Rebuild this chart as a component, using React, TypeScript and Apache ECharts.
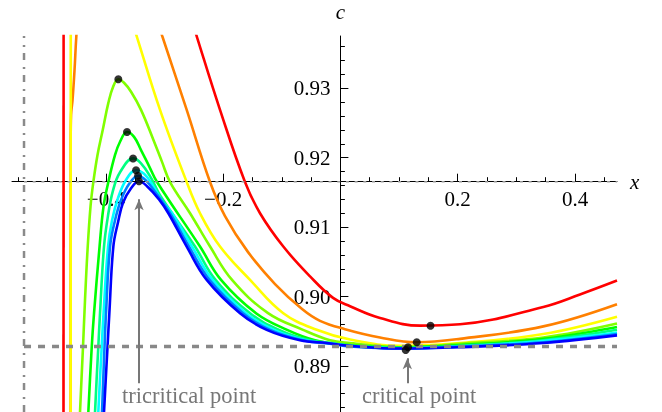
import React, { useEffect, useRef } from "react";
import * as echarts from "echarts";

// ---- axis ranges and ticks ----
const X_MIN = -0.56;
const X_MAX = 0.4716;
const C_MIN = 0.88336;
const C_MAX = 0.93754;
const C_TRI = 0.91654; // axes origin (tricritical c)
const X_MAJOR = [-0.4, -0.2, 0.2, 0.4];
const X_MINOR = [-0.55, -0.5, -0.45, -0.35, -0.3, -0.25, -0.15, -0.1, -0.05, 0.05, 0.1, 0.15, 0.25, 0.3, 0.35, 0.45];
const C_MAJOR = [0.89, 0.9, 0.91, 0.92, 0.93];
const C_MINOR = [0.884, 0.886, 0.888, 0.892, 0.894, 0.896, 0.898, 0.902, 0.904, 0.906, 0.908, 0.912, 0.914, 0.916, 0.918, 0.922, 0.924, 0.926, 0.928, 0.932, 0.934, 0.936];

// ---- reference lines / annotations ----
const X_DASHDOT = -0.5395;
const C_DASHED = 0.8928;
const TRI_ARROW_X = -0.3434;
const CRIT_ARROW_X = 0.1141;
const ARROW_BASE_C = 0.8875;
const TRI_ARROW_END_C = 0.914;
const CRIT_ARROW_END_C = 0.8911;

// ---- curves [x, c] ----
const redLeft = [[-0.4722, 0.8793], [-0.472, 0.9413]];
const redMain = [[-0.2587, 0.9413], [-0.245, 0.9375], [-0.2053, 0.9269], [-0.1627, 0.9165], [-0.1371, 0.912], [-0.0974, 0.9072], [-0.0518, 0.9029], [-0.0126, 0.8998], [0.0164, 0.8986], [0.0675, 0.8969], [0.1357, 0.8958], [0.204, 0.896], [0.346, 0.8985], [0.4085, 0.9003], [0.4716, 0.9023]];
const orangeLeft = [[-0.4465, 0.9413], [-0.4503, 0.9375], [-0.4534, 0.9326], [-0.4568, 0.9283], [-0.4593, 0.9262], [-0.4599, 0.9226], [-0.46, 0.8793]];
const orangeMain = [[-0.3183, 0.9413], [-0.3037, 0.9375], [-0.2621, 0.9269], [-0.2223, 0.9165], [-0.1968, 0.9116], [-0.1575, 0.9064], [-0.1115, 0.9018], [-0.0654, 0.8982], [-0.0348, 0.8965], [0.0078, 0.8953], [0.0675, 0.8941], [0.1301, 0.8934], [0.204, 0.8939], [0.346, 0.8957], [0.4716, 0.8989]];
const yellowLeft = [[-0.46, 0.8793], [-0.4598, 0.9413]];
const yellowMain = [[-0.3613, 0.9413], [-0.3473, 0.9375], [-0.3076, 0.9269], [-0.2621, 0.9165], [-0.2394, 0.912], [-0.2053, 0.9072], [-0.1541, 0.9024], [-0.0974, 0.8976], [-0.0404, 0.8952], [0.0164, 0.8938], [0.1016, 0.8929], [0.204, 0.8933], [0.346, 0.8946], [0.4716, 0.8971]];
const chartreuse = [[-0.4457, 0.8793], [-0.444, 0.8834], [-0.4389, 0.8928], [-0.4355, 0.8995], [-0.4312, 0.9067], [-0.4261, 0.913], [-0.4213, 0.9165], [-0.4142, 0.9204], [-0.4053, 0.924], [-0.3957, 0.9279], [-0.3877, 0.9302], [-0.3787, 0.9313], [-0.369, 0.9308], [-0.357, 0.9295], [-0.34, 0.9269], [-0.319, 0.9226], [-0.3042, 0.9194], [-0.2905, 0.9165], [-0.2564, 0.912], [-0.2223, 0.9072], [-0.1848, 0.9024], [-0.1234, 0.8976], [-0.0638, 0.8952], [-0.0177, 0.8937], [0.0164, 0.8933], [0.1016, 0.8927], [0.204, 0.8932], [0.346, 0.8941], [0.4716, 0.8961]];
const green = [[-0.4321, 0.8793], [-0.4298, 0.8834], [-0.424, 0.8928], [-0.4201, 0.8976], [-0.4107, 0.9072], [-0.4039, 0.913], [-0.3957, 0.9165], [-0.3843, 0.9204], [-0.3758, 0.9223], [-0.3639, 0.9237], [-0.3519, 0.923], [-0.34, 0.9211], [-0.3263, 0.9188], [-0.3127, 0.9165], [-0.2394, 0.9072], [-0.2036, 0.9024], [-0.1439, 0.8976], [-0.091, 0.8952], [-0.0433, 0.8937], [-0.0007, 0.8931], [0.0505, 0.8928], [0.1016, 0.8927], [0.204, 0.893], [0.346, 0.8939], [0.4716, 0.8956]];
const spring = [[-0.4201, 0.8793], [-0.4184, 0.8834], [-0.4128, 0.8928], [-0.4099, 0.8976], [-0.4031, 0.9072], [-0.3962, 0.9117], [-0.3877, 0.9153], [-0.3758, 0.9179], [-0.3536, 0.9199], [-0.34, 0.9192], [-0.3229, 0.9171], [-0.3076, 0.9146], [-0.2479, 0.9072], [-0.213, 0.9024], [-0.1541, 0.8976], [-0.1047, 0.8952], [-0.0518, 0.8937], [-0.0075, 0.8932], [0.0164, 0.8929], [0.1016, 0.8926], [0.204, 0.8929], [0.346, 0.8937], [0.4716, 0.8952]];
const cyan = [[-0.4142, 0.8793], [-0.4128, 0.8834], [-0.407, 0.8928], [-0.4039, 0.8976], [-0.3962, 0.9072], [-0.3894, 0.911], [-0.3792, 0.9142], [-0.3656, 0.9168], [-0.3485, 0.9182], [-0.3349, 0.9177], [-0.3213, 0.9162], [-0.306, 0.914], [-0.2871, 0.912], [-0.253, 0.9072], [-0.2181, 0.9024], [-0.161, 0.8976], [-0.1132, 0.8952], [-0.0587, 0.8937], [-0.0126, 0.8932], [0.0164, 0.8929], [0.1016, 0.8925], [0.204, 0.8928], [0.346, 0.8936], [0.4716, 0.8948]];
const azure = [[-0.4082, 0.8793], [-0.4065, 0.8834], [-0.4022, 0.8928], [-0.3997, 0.8976], [-0.3928, 0.9072], [-0.3843, 0.911], [-0.3741, 0.9139], [-0.3604, 0.9162], [-0.3446, 0.9174], [-0.3315, 0.9167], [-0.3161, 0.9151], [-0.2905, 0.912], [-0.2581, 0.9072], [-0.2232, 0.9024], [-0.1661, 0.8976], [-0.12, 0.8952], [-0.0638, 0.8937], [-0.0177, 0.8932], [0.0164, 0.8928], [0.1016, 0.8925], [0.204, 0.8928], [0.346, 0.8934], [0.4716, 0.8946]];
const blue = [[-0.4056, 0.8793], [-0.4031, 0.8834], [-0.3971, 0.8928], [-0.394, 0.8976], [-0.3872, 0.9072], [-0.3792, 0.9107], [-0.3707, 0.9135], [-0.357, 0.9156], [-0.3434, 0.9166], [-0.3298, 0.9159], [-0.3093, 0.914], [-0.2934, 0.912], [-0.2621, 0.9072], [-0.228, 0.9024], [-0.1712, 0.8976], [-0.1257, 0.8952], [-0.0689, 0.8937], [-0.0234, 0.8933], [0.0164, 0.8929], [0.1016, 0.8925], [0.204, 0.8927], [0.346, 0.8933], [0.4716, 0.8944]];

const peakDots = [[-0.3787, 0.9313], [-0.3639, 0.9237], [-0.3536, 0.9199], [-0.3485, 0.9182], [-0.3451, 0.9174], [-0.3434, 0.9166]];
const minDots = [[0.1536, 0.8958], [0.1301, 0.8934], [0.1153, 0.8927], [0.1113, 0.8923]];

const FONT = "'Liberation Serif', 'Times New Roman', Times, serif";

export default function App() {
  const ref = useRef<HTMLDivElement>(null);
  useEffect(() => {
    const chart = echarts.init(ref.current!, null, { renderer: "svg" });
    const curve = (name: string, color: string, data: number[][]) => ({
      type: "line",
      name,
      data,
      symbol: "none",
      showSymbol: false,
      smooth: 0.4,
      clip: true,
      silent: true,
      lineStyle: { color, width: 2.6 },
      itemStyle: { color },
    });
    const refLine = (data: number[][], type: number[], width: number, color: string) => ({
      type: "line",
      data,
      symbol: "none",
      showSymbol: false,
      silent: true,
      clip: true,
      lineStyle: { color, width, type, cap: "butt" },
    });
    const fmtX = (v: number) => (v < 0 ? "\u2212" + Math.abs(v).toFixed(1) : v.toFixed(1));
    const axisFont = { fontFamily: FONT, fontSize: 21, color: "#000" };
    const xCommon = {
      type: "value",
      min: X_MIN,
      max: X_MAX,
      position: "bottom",
      offset: -230.3,
      splitLine: { show: false },
    };
    const yCommon = {
      type: "value",
      min: C_MIN,
      max: C_MAX,
      position: "left",
      offset: -328.4,
      splitLine: { show: false },
    };
    chart.setOption({
      animation: false,
      grid: { left: 12, right: 45, top: 36, bottom: 0, containLabel: false, outerBoundsMode: "none" },
      xAxis: [
        {
          ...xCommon,
          name: "x",
          nameLocation: "end",
          nameGap: 13,
          nameTextStyle: { ...axisFont, fontStyle: "italic" },
          axisLine: { show: true, onZero: false, lineStyle: { color: "#000", width: 1 } },
          axisTick: { show: true, inside: true, length: 8, customValues: X_MAJOR, lineStyle: { color: "#000", width: 1 } },
          axisLabel: { show: true, customValues: X_MAJOR, formatter: fmtX, margin: 7, ...axisFont },
        },
        {
          ...xCommon,
          axisLine: { show: false, onZero: false },
          axisTick: { show: true, inside: true, length: 4.5, customValues: X_MINOR, lineStyle: { color: "#000", width: 1 } },
          axisLabel: { show: false },
        },
      ],
      yAxis: [
        {
          ...yCommon,
          name: "c",
          nameLocation: "end",
          nameGap: 14,
          nameTextStyle: { ...axisFont, fontStyle: "italic" },
          axisLine: { show: true, onZero: false, lineStyle: { color: "#000", width: 1 } },
          axisTick: { show: true, inside: true, length: 8, customValues: C_MAJOR, lineStyle: { color: "#000", width: 1 } },
          axisLabel: { show: true, customValues: C_MAJOR, formatter: (v: number) => v.toFixed(2), margin: 10, ...axisFont },
        },
        {
          ...yCommon,
          axisLine: { show: false, onZero: false },
          axisTick: { show: true, inside: true, length: 4.5, customValues: C_MINOR, lineStyle: { color: "#000", width: 1 } },
          axisLabel: { show: false },
        },
      ],
      series: [
        curve("red", "#ff0000", redLeft),
        curve("red", "#ff0000", redMain),
        curve("orange", "#ff8000", orangeLeft),
        curve("orange", "#ff8000", orangeMain),
        curve("yellow", "#ffff00", yellowLeft),
        curve("yellow", "#ffff00", yellowMain),
        curve("chartreuse", "#80ff00", chartreuse),
        curve("green", "#00ff00", green),
        curve("spring", "#00ff80", spring),
        curve("cyan", "#00ffff", cyan),
        curve("azure", "#0080ff", azure),
        curve("blue", "#0000ff", blue),
        refLine([[X_DASHDOT, C_MIN], [X_DASHDOT, C_MAX]], [7, 6, 2, 7], 2.5, "#8a8a8a"),
        refLine([[X_DASHDOT, C_DASHED], [X_MAX, C_DASHED]], [7, 7], 3.5, "#888888"),
        refLine([[X_DASHDOT, C_TRI], [X_MAX, C_TRI]], [3, 5.7], 1.5, "#999999"),
        {
          type: "scatter",
          data: [...peakDots, ...minDots],
          symbol: "circle",
          symbolSize: 8,
          silent: true,
          itemStyle: { color: "#000" },
          z: 5,
          markLine: {
            silent: true,
            symbol: ["none", "arrow"],
            symbolSize: [7, 11],
            label: { show: false },
            lineStyle: { color: "#777", width: 2, type: "solid" },
            data: [
              [{ coord: [TRI_ARROW_X, ARROW_BASE_C] }, { coord: [TRI_ARROW_X, TRI_ARROW_END_C] }],
              [{ coord: [CRIT_ARROW_X, ARROW_BASE_C] }, { coord: [CRIT_ARROW_X, CRIT_ARROW_END_C] }],
            ],
          },
        },
      ],
      graphic: [
        { type: "text", x: 122, y: 395, silent: true, style: { text: "tricritical point", fontFamily: FONT, fontSize: 22.5, fill: "#777", align: "left", verticalAlign: "middle" } },
        { type: "text", x: 362, y: 395, silent: true, style: { text: "critical point", fontFamily: FONT, fontSize: 22.5, fill: "#777", align: "left", verticalAlign: "middle" } },
      ],
    });
    return () => chart.dispose();
  }, []);
  return <div ref={ref} style={{ position: "fixed", left: 0, top: 0, width: 662, height: 412 }} />;
}
